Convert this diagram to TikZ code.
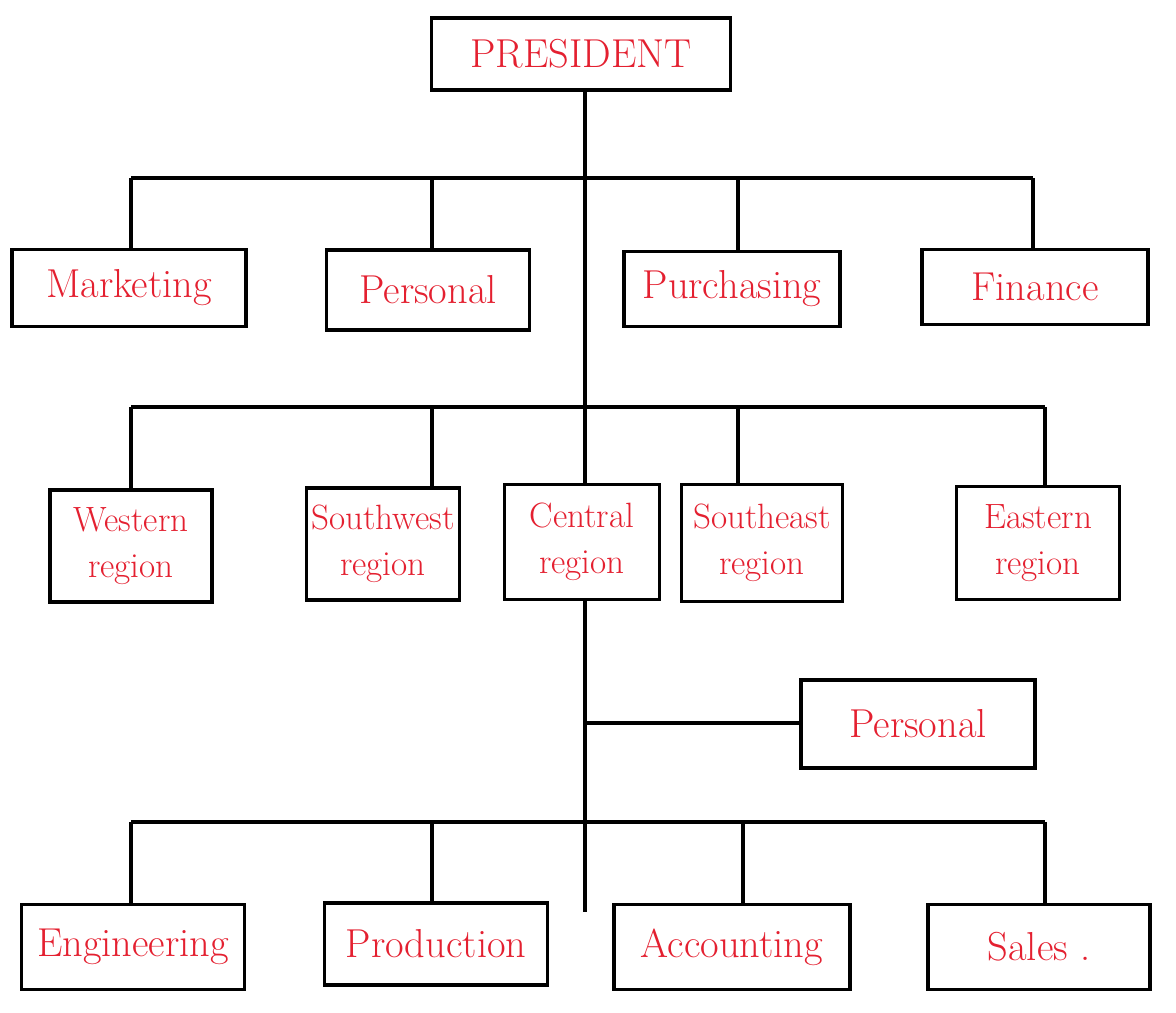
\documentclass[tikz,border=0pt]{standalone}
\usepackage{tikz}
\usepackage{xcolor}
\definecolor{ink}{RGB}{228,32,48}

\begin{document}
\begin{tikzpicture}[x=0.02cm,y=-0.02cm,line width=2pt,
  box/.style={draw=black,fill=white,rectangle,inner sep=0pt,text=ink,
    font=\fontsize{23}{27}\selectfont,align=center},
  region/.style={box,font=\fontsize{20}{26}\selectfont}]
\useasboundingbox (0,0) rectangle (1176,1012);
% top
\node[box,minimum width=5.98cm,minimum height=1.44cm] (pres) at (581,54) {PRESIDENT};
% departments
\node[box,minimum width=4.68cm,minimum height=1.54cm] (mkt) at (129,288) {Marketing};
\node[box,minimum width=4.06cm,minimum height=1.6cm] (pers) at (428,290) {Personal};
\node[box,minimum width=4.32cm,minimum height=1.5cm] (pur) at (732,289) {Purchasing};
\node[box,minimum width=4.52cm,minimum height=1.5cm] (fin) at (1035,287) {Finance};
% regions
\node[region,minimum width=3.24cm,minimum height=2.24cm] (west) at (131,546) {Western\\region};
\node[region,minimum width=3.06cm,minimum height=2.24cm] (sw) at (383,544) {Southwest\\region};
\node[region,minimum width=3.1cm,minimum height=2.3cm] (cen) at (582,542) {Central\\region};
\node[region,minimum width=3.22cm,minimum height=2.34cm] (se) at (762,543) {Southeast\\region};
\node[region,minimum width=3.26cm,minimum height=2.26cm] (east) at (1038,543) {Eastern\\region};
% under central region
\node[box,minimum width=4.68cm,minimum height=1.76cm] (pers2) at (918,724) {Personal};
\node[box,minimum width=4.46cm,minimum height=1.7cm] (eng) at (133,947) {Engineering};
\node[box,minimum width=4.46cm,minimum height=1.64cm] (prod) at (436,944) {Production};
\node[box,minimum width=4.72cm,minimum height=1.7cm] (acc) at (732,947) {Accounting};
\node[box,minimum width=4.44cm,minimum height=1.7cm] (sal) at (1039,947) {Sales .};
% bus points
\coordinate (a0) at (585,178);
\coordinate (a1) at (131,178);
\coordinate (a2) at (432,178);
\coordinate (a3) at (738,178);
\coordinate (a4) at (1033,178);
\coordinate (b0) at (585,407);
\coordinate (b1) at (131,407);
\coordinate (b2) at (432,407);
\coordinate (b3) at (738,407);
\coordinate (b4) at (1045,407);
\coordinate (p0) at (585,723);
\coordinate (c0) at (585,822);
\coordinate (c1) at (131,822);
\coordinate (c2) at (432,822);
\coordinate (c3) at (743,822);
\coordinate (c4) at (1045,822);
\coordinate (tend) at (585,912);
% trunk
\draw (pres.south -| a0) -- (cen.north -| b0);
\draw (cen.south -| c0) -- (tend);
% level 1
\draw (a1) -- (a4);
\draw (a1) -- (a1 |- mkt.north);
\draw (a2) -- (a2 |- pers.north);
\draw (a3) -- (a3 |- pur.north);
\draw (a4) -- (a4 |- fin.north);
% level 2
\draw (b1) -- (b4);
\draw (b1) -- (b1 |- west.north);
\draw (b2) -- (b2 |- sw.north);
\draw (b3) -- (b3 |- se.north);
\draw (b4) -- (b4 |- east.north);
% level 3
\draw (p0) -- (pers2.west |- p0);
\draw (c1) -- (c4);
\draw (c1) -- (c1 |- eng.north);
\draw (c2) -- (c2 |- prod.north);
\draw (c3) -- (c3 |- acc.north);
\draw (c4) -- (c4 |- sal.north);
\end{tikzpicture}
\end{document}
